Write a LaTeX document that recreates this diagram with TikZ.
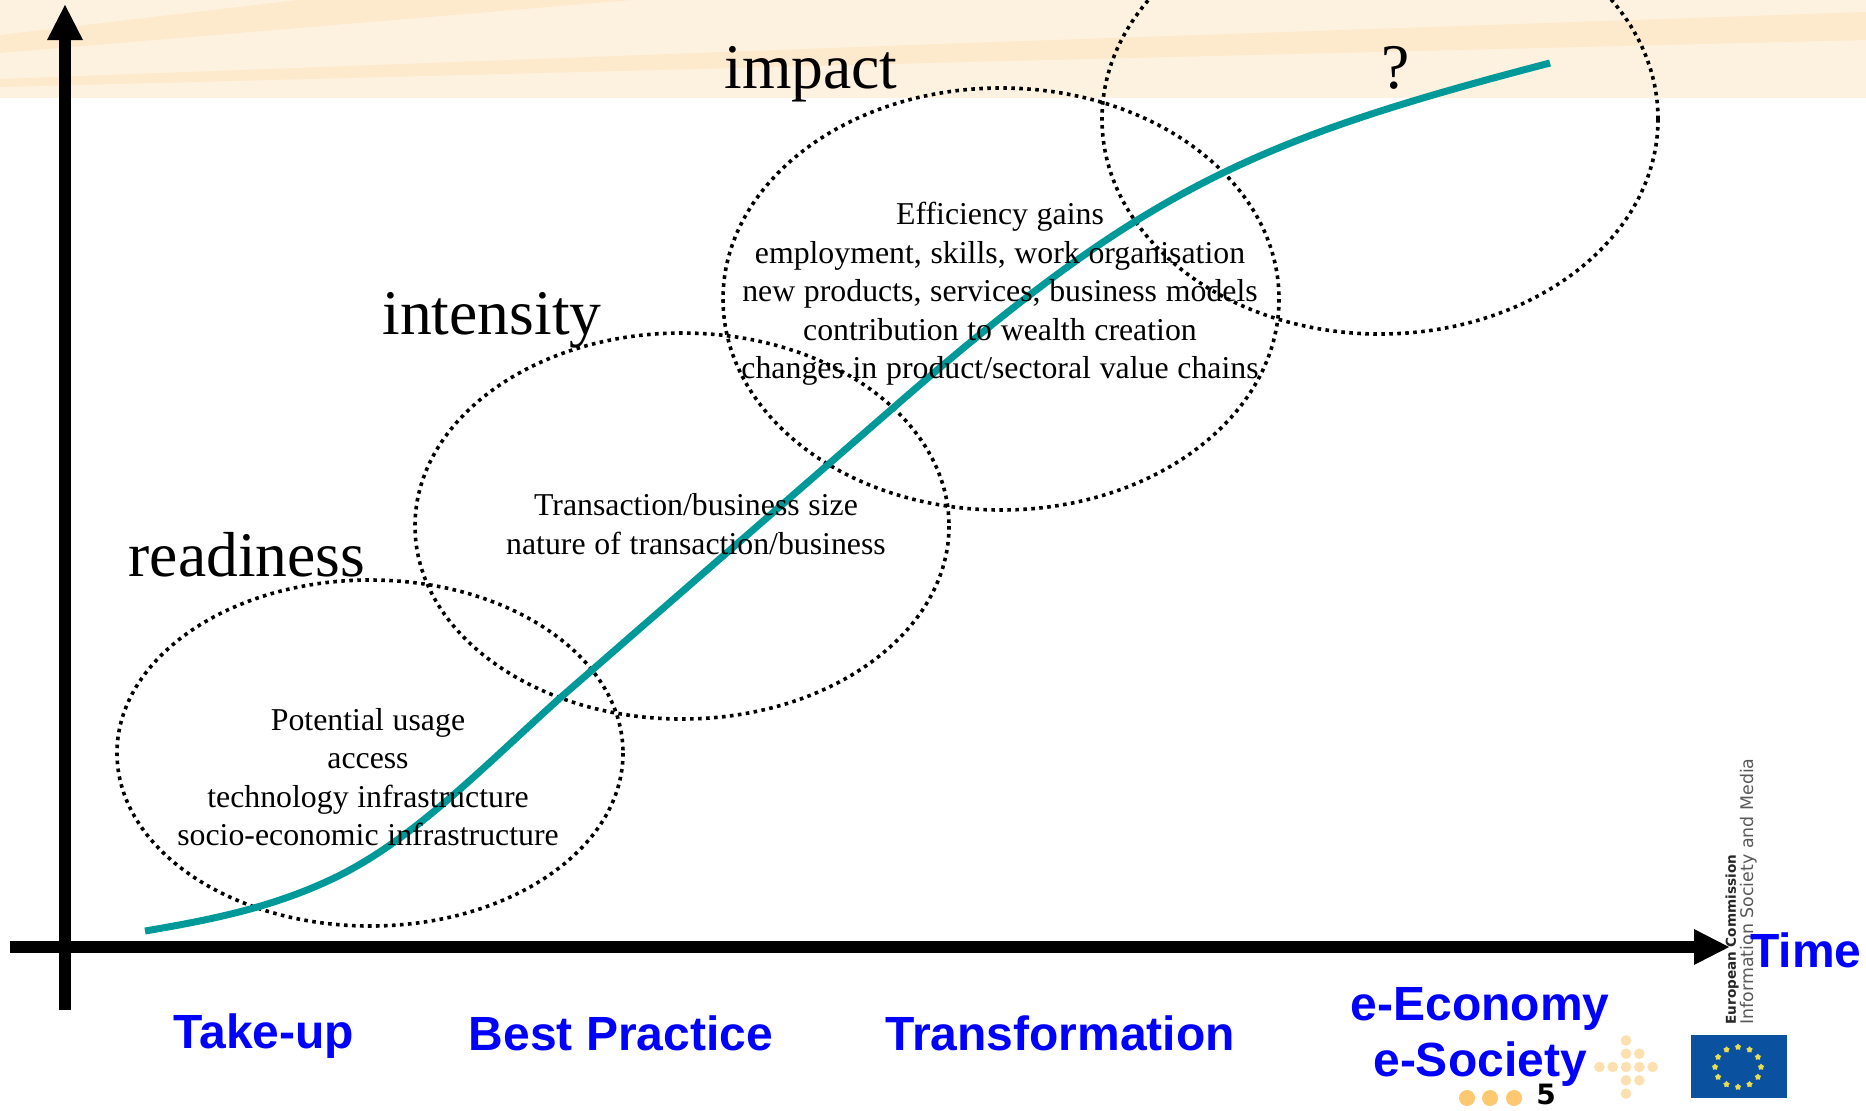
\documentclass[tikz,border=0pt]{standalone}
\usepackage{fontspec}
\setmainfont{Liberation Serif}
\newfontfamily\itemfont[WordSpace=1.1]{Liberation Serif}
\newfontfamily\labelfont{Liberation Sans}
\newfontfamily\logofont{DejaVu Sans}
\usetikzlibrary{arrows.meta,shapes.geometric}

\definecolor{bandlight}{HTML}{FDF2E0}
\definecolor{banddark}{HTML}{FDE9CC}
\definecolor{curveteal}{HTML}{009999}
\definecolor{crossdot}{HTML}{FDE0B0}
\definecolor{pagedot}{HTML}{FDC870}
\definecolor{flagblue}{HTML}{0A52A0}
\definecolor{flagstar}{HTML}{E8DC50}

\tikzset{
  axisline/.style={line width=6pt,-{Triangle[length=18pt,width=16.5pt]}},
  phasecircle/.style={line width=1.8pt,dash pattern=on 1.8pt off 2.2pt},
  biglabel/.style={font=\fontsize{31.8}{34}\selectfont},
  smalllabel/.style={font=\itemfont\fontsize{15.9}{19.25}\selectfont,align=center},
  phaselabel/.style={font=\labelfont\bfseries\fontsize{24}{28}\selectfont,text=blue,align=center},
  logotext/.style={rotate=90,anchor=west,inner sep=0pt},
}

\begin{document}
\begin{tikzpicture}[x=0.5pt,y=-0.5pt]
  \useasboundingbox (0,0) rectangle (1866,1110);
  \clip (0,0) rectangle (1866,1110);
  %band
  \fill[bandlight] (0,0) rectangle (1866,98);
  \fill[banddark] (0,35)--(298,0)--(631,0)--(0,53)--cycle;
  \fill[banddark] (0,79)--(966,43)--(1866,12)--(1866,40)--(966,62)--(0,87)--cycle;
  %ellipses
  \draw[phasecircle] (370,753) ellipse [x radius=253,y radius=173];
  \draw[phasecircle] (682,526) ellipse [x radius=267,y radius=193];
  \draw[phasecircle] (1001,299) ellipse [x radius=278,y radius=211];
  \draw[phasecircle] (1380,119) ellipse [x radius=278,y radius=215];
  %curve
  \draw[curveteal,line width=3.5pt] (145,931) .. controls (210,920) and (270,908) .. (330,880)
    .. controls (410,843) and (480,770) .. (560,698)
    -- (893,408) .. controls (1143,190) and (1250,141) .. (1550,63);
  %axes
  \coordinate (xstart) at (10,947); \coordinate (xend) at (1730,947);
  \coordinate (ystart) at (65,1010); \coordinate (yend) at (65,4);
  \draw[axisline] (xstart)--(xend);
  \draw[axisline] (ystart)--(yend);
  %big labels
  \node[biglabel] (readiness) at (247,555) {readiness};
  \node[biglabel] (intensity) at (492,320) {intensity};
  \node[biglabel] (impact) at (811,74) {impact};
  \node[biglabel] (unknown) at (1396,68) {?};
  %small labels
  \node[smalllabel] (takeupitems) at (368,777) {Potential usage\\access\\technology infrastructure\\socio-economic infrastructure};
  \node[smalllabel] (practiceitems) at (696,524) {Transaction/business size\\nature of transaction/business};
  \node[smalllabel] (impactitems) at (1000,294) {Efficiency gains\\employment, skills, work organisation\\new products, services, business models\\contribution to wealth creation\\changes in product/sectoral value chains};
  %logo
  \node[logotext,text=black!85,font=\logofont\bfseries\fontsize{6.8}{8}\selectfont] (commission) at (1732,1025) {European Commission};
  \node[logotext,text=black!65,font=\logofont\fontsize{8.7}{10}\selectfont] (directorate) at (1749,1025) {Information Society and Media};
  \fill[flagblue] (1691,1035) rectangle (1787,1098);
  \foreach \a in {0,30,...,330}
    \node[star,star points=5,fill=flagstar,inner sep=0pt,minimum size=3.4pt] (star\a) at ({1738+23*cos(\a)},{1067+20*sin(\a)}) {};
  %dots
  \foreach \dx/\dy in {0/-2,0/-1,1/-1,-2/0,-1/0,0/0,1/0,2/0,0/1,1/1,0/2}
    \fill[crossdot] ({1626+13.3*\dx},{1067+13.3*\dy}) circle [radius=5.3];
  \foreach \dotx in {1467,1490,1514}
    \fill[pagedot] (\dotx,1098) circle [radius=8];
  %phases
  \node[phaselabel] (time) at (1806,950) {Time};
  \node[phaselabel] (takeup) at (264,1036) {Take-up};
  \node[phaselabel] (practice) at (621,1033) {Best Practice};
  \node[phaselabel] (transformation) at (1060,1033) {Transformation};
  \node[phaselabel] (society) at (1480,1037) {e-Economy\\e-Society};
  \node[font=\logofont\bfseries\fontsize{14}{16}\selectfont] (pagenumber) at (1546,1094) {5};
\end{tikzpicture}
\end{document}
